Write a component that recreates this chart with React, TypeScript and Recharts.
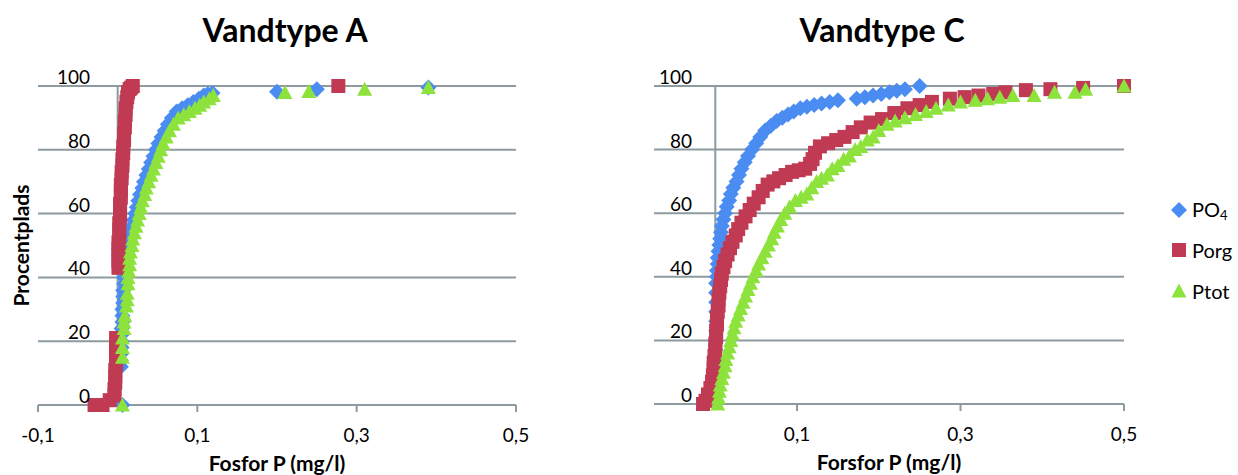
import { ScatterChart, Scatter, XAxis, YAxis, CartesianGrid, ReferenceLine, Legend } from 'recharts';

const FONT = 'Lato, "Open Sans", sans-serif';
const GRID = '#8d9ba1';
const BLUE = '#4a8cf2';
const RED = '#bf3a52';
const GREEN = '#8de33c';

// percentile (y) against concentration (x)
const A_PO4: [number, number][] = [
    [0.006, 0], [0.004, 12], [0.004, 14], [0.004, 16], [0.005, 18], [0.005, 20], [0.005, 22], [0.005, 24],
    [0.006, 26], [0.006, 28], [0.006, 30], [0.007, 32], [0.007, 34], [0.007, 36], [0.008, 38], [0.008, 40],
    [0.009, 42], [0.009, 44], [0.010, 46], [0.012, 48], [0.013, 50], [0.015, 52], [0.016, 54], [0.018, 56],
    [0.020, 58], [0.022, 60], [0.024, 62], [0.026, 64], [0.028, 66], [0.031, 68], [0.033, 70], [0.036, 72],
    [0.039, 74], [0.042, 76], [0.045, 78], [0.048, 80], [0.051, 82], [0.055, 84], [0.059, 86], [0.063, 88],
    [0.068, 90], [0.074, 92], [0.081, 93], [0.088, 94], [0.095, 95], [0.102, 96], [0.108, 97], [0.113, 97.5],
    [0.119, 97.8], [0.2, 98.2], [0.25, 99], [0.39, 99.5],
];
const A_PORG: [number, number][] = [
    [-0.029, 0], [-0.024, 0], [-0.019, 0], [-0.010, 1.5], [-0.004, 3], [-0.004, 5], [-0.003, 7], [-0.003, 9],
    [-0.003, 11], [-0.002, 13], [-0.002, 15], [-0.002, 17], [-0.002, 19], [-0.002, 21], [0.001, 43], [0.001, 45],
    [0.001, 47], [0.001, 49], [0.001, 51], [0.002, 53], [0.002, 55], [0.002, 57], [0.003, 59], [0.003, 61],
    [0.003, 63], [0.004, 65], [0.004, 67], [0.004, 69], [0.005, 71], [0.005, 73], [0.006, 75], [0.006, 77],
    [0.007, 79], [0.007, 81], [0.008, 83], [0.008, 85], [0.009, 87], [0.009, 89], [0.010, 91], [0.010, 93],
    [0.011, 95], [0.012, 96.5], [0.013, 98], [0.015, 99], [0.017, 99.5], [0.019, 100], [0.277, 100],
];
const A_PTOT: [number, number][] = [
    [0.006, 0], [0.006, 15], [0.006, 18], [0.006, 21], [0.008, 24], [0.008, 26], [0.009, 28], [0.011, 31],
    [0.012, 33], [0.012, 35], [0.013, 38], [0.013, 40], [0.014, 42], [0.015, 44], [0.015, 46], [0.016, 48],
    [0.018, 50], [0.019, 52], [0.021, 54], [0.023, 56], [0.025, 58], [0.027, 60], [0.029, 62], [0.031, 64],
    [0.034, 66], [0.036, 68], [0.039, 70], [0.042, 72], [0.045, 74], [0.048, 76], [0.051, 78], [0.054, 80],
    [0.057, 82], [0.061, 84], [0.065, 86], [0.070, 88], [0.076, 90], [0.083, 91], [0.090, 92], [0.097, 93],
    [0.103, 94], [0.108, 95], [0.115, 96], [0.120, 97], [0.21, 98], [0.24, 98.3], [0.31, 99], [0.39, 99.5],
];

const C_PO4: [number, number][] = [
    [0.000, 8], [0.000, 11], [0.000, 14], [0.000, 17], [0.000, 20], [0.001, 23], [0.001, 26], [0.001, 29],
    [0.001, 32], [0.001, 35], [0.001, 38], [0.002, 40], [0.002, 42], [0.003, 44], [0.003, 46], [0.004, 48],
    [0.005, 50], [0.006, 52], [0.007, 54], [0.008, 56], [0.010, 58], [0.012, 60], [0.014, 62], [0.017, 64],
    [0.019, 66], [0.022, 68], [0.026, 70], [0.029, 72], [0.032, 74], [0.036, 76], [0.040, 78], [0.045, 80],
    [0.050, 82], [0.055, 84], [0.061, 86], [0.068, 87.5], [0.075, 89], [0.082, 90], [0.089, 91], [0.096, 92],
    [0.104, 93], [0.112, 93.5], [0.121, 94], [0.130, 94.5], [0.140, 95], [0.150, 95.5], [0.173, 96], [0.183, 96.5],
    [0.193, 97], [0.203, 97.5], [0.213, 98], [0.222, 98.5], [0.232, 99], [0.25, 100],
];
const C_PORG: [number, number][] = [
    [-0.015, 0], [-0.012, 1], [-0.009, 3], [-0.006, 5], [-0.004, 7], [-0.003, 9], [-0.002, 11], [-0.002, 13],
    [-0.001, 15], [0.000, 17], [0.000, 19], [0.001, 21], [0.001, 23], [0.002, 25], [0.002, 27], [0.003, 29],
    [0.004, 31], [0.004, 33], [0.005, 35], [0.006, 37], [0.007, 39], [0.008, 41], [0.010, 43], [0.012, 45],
    [0.015, 47], [0.018, 49], [0.021, 51], [0.025, 53], [0.028, 55], [0.032, 57], [0.037, 59], [0.042, 61],
    [0.047, 63], [0.053, 65], [0.058, 67], [0.064, 69], [0.071, 70], [0.078, 71], [0.086, 72], [0.094, 73],
    [0.102, 73.5], [0.110, 74], [0.116, 75.5], [0.119, 77], [0.122, 79], [0.128, 81], [0.138, 82], [0.148, 83],
    [0.158, 84], [0.168, 85.5], [0.178, 87], [0.190, 88.5], [0.204, 89.6], [0.219, 91.5], [0.235, 93], [0.250, 94],
    [0.265, 95], [0.287, 96], [0.305, 96.5], [0.322, 97], [0.340, 97.5], [0.355, 98], [0.38, 98.7], [0.41, 99],
    [0.45, 99.4], [0.5, 100],
];
const C_PTOT: [number, number][] = [
    [0.003, 0], [0.004, 2], [0.005, 4], [0.006, 6], [0.008, 8], [0.010, 10], [0.012, 12], [0.013, 14],
    [0.015, 16], [0.017, 18], [0.019, 20], [0.021, 22], [0.023, 24], [0.025, 26], [0.028, 28], [0.031, 30],
    [0.034, 32], [0.037, 34], [0.040, 36], [0.043, 38], [0.046, 40], [0.050, 42], [0.053, 44], [0.057, 46],
    [0.061, 48], [0.065, 50], [0.069, 52], [0.072, 54], [0.076, 56], [0.080, 58], [0.085, 60], [0.091, 62],
    [0.098, 64], [0.105, 65], [0.112, 66], [0.118, 68], [0.124, 70], [0.130, 71], [0.137, 72], [0.143, 74],
    [0.150, 75], [0.157, 77], [0.164, 78], [0.171, 80], [0.178, 81], [0.186, 83], [0.193, 84], [0.200, 86],
    [0.210, 88], [0.220, 89], [0.232, 90], [0.245, 91], [0.258, 92], [0.270, 93], [0.285, 94], [0.300, 95],
    [0.318, 95.5], [0.333, 96], [0.348, 96.5], [0.364, 97], [0.39, 97], [0.415, 98], [0.44, 98], [0.453, 99],
    [0.5, 100],
];

const Y_TICKS = [0, 20, 40, 60, 80, 100];
const X_TICKS_A = [-0.1, 0.1, 0.3, 0.5];
const X_TICKS_C = [0.1, 0.3, 0.5];

const toPoints = (rows: [number, number][]) => rows.map(([x, y]) => ({ x, y }));
const comma = (v: number) => String(v).replace('.', ',');

const Diamond = ({ cx, cy, fill }: any) => (
    <path d={`M${cx},${cy - 8}L${cx + 8},${cy}L${cx},${cy + 8}L${cx - 8},${cy}Z`} fill={fill} />
);
const Square = ({ cx, cy, fill }: any) => <rect x={cx - 7} y={cy - 7} width={14} height={14} fill={fill} />;
const Triangle = ({ cx, cy, fill }: any) => (
    <path d={`M${cx},${cy - 7.5}L${cx + 7.5},${cy + 6.5}L${cx - 7.5},${cy + 6.5}Z`} fill={fill} />
);

const SERIES = [
    { key: 'po4', color: BLUE, Shape: Diamond },
    { key: 'porg', color: RED, Shape: Square },
    { key: 'ptot', color: GREEN, Shape: Triangle },
];

const YTick = ({ y, payload, right }: any) => (
    <text x={right} y={y - 2} textAnchor="end" fontSize={19} fontFamily={FONT} fill="#000">
        {payload.value}
    </text>
);

const LegendBox = () => (
    <div style={{ fontFamily: FONT, fontSize: 20, color: '#000' }}>
        {SERIES.map(({ key, color, Shape }, i) => (
            <div key={key} style={{ display: 'flex', alignItems: 'center', height: i === 1 ? 40 : 41 }}>
                <svg width={18} height={18} style={{ marginRight: 4 }}>
                    <Shape cx={9} cy={9} fill={color} />
                </svg>
                {key === 'po4' && <span>PO<sub style={{ fontSize: 13, verticalAlign: -3 }}>4</sub></span>}
                {key === 'porg' && <span>Porg</span>}
                {key === 'ptot' && <span>Ptot</span>}
            </div>
        ))}
    </div>
);

const Title = ({ text, center }: { text: string; center: number }) => (
    <div style={{
        position: 'absolute', left: center - 150, width: 300, top: 10, textAlign: 'center',
        fontFamily: FONT, fontWeight: 700, fontSize: 32, color: '#000',
    }}>{text}</div>
);

const Panel = ({ data, domain, ticks, width, margin, labelRight, xTitle, yTitle, legend }: any) => (
    <ScatterChart width={width} height={475} margin={margin}>
        <CartesianGrid vertical={false} stroke={GRID} strokeWidth={2} />
        <XAxis
            type="number" dataKey="x" domain={domain} ticks={ticks} tickFormatter={comma}
            stroke={GRID} strokeWidth={2} tickSize={7} tickMargin={17} height={30}
            tick={{ fill: '#000', fontSize: 19, fontFamily: FONT }}
            label={{ value: xTitle, position: 'bottom', offset: 21, fill: '#000', fontSize: 21, fontWeight: 700, fontFamily: FONT }}
        />
        <YAxis
            type="number" dataKey="y" domain={[0, 100]} ticks={Y_TICKS} width={1} interval={0}
            axisLine={false} tickLine={false} tick={(p: any) => <YTick {...p} right={labelRight} />}
            label={yTitle ? {
                value: yTitle, angle: -90, position: 'left', offset: 15, textAnchor: 'middle',
                fill: '#000', fontSize: 21, fontWeight: 700, fontFamily: FONT,
            } : undefined}
        />
        <ReferenceLine x={0} stroke={GRID} strokeWidth={2} />
        {SERIES.map(({ key, color, Shape }, i) => (
            <Scatter key={key} name={key} data={toPoints(data[i])} fill={color} isAnimationActive={false}
                     shape={(p: any) => <Shape cx={p.cx} cy={p.cy} fill={color} />} />
        ))}
        {legend && (
            <Legend layout="vertical" align="center" verticalAlign="middle" content={() => <LegendBox />}
                    wrapperStyle={{ left: 570, top: 189, width: 80 }} />
        )}
    </ScatterChart>
);

export default function App() {
    return (
        <div style={{ position: 'absolute', left: 0, top: 0, width: 1238, height: 475, background: '#fff', overflow: 'hidden' }}>
            <Title text="Vandtype A" center={285} />
            <Title text="Vandtype C" center={882} />
            <div style={{ position: 'absolute', left: 0, top: 0 }}>
                <Panel data={[A_PO4, A_PORG, A_PTOT]} domain={[-0.1, 0.5]} ticks={X_TICKS_A} width={560}
                       margin={{ top: 86, right: 44, bottom: 40, left: 37 }} labelRight={90}
                       xTitle="Fosfor P (mg/l)" yTitle="Procentplads" />
            </div>
            <div style={{ position: 'absolute', left: 600, top: 0 }}>
                <Panel data={[C_PO4, C_PORG, C_PTOT]} domain={[-0.075, 0.5]} ticks={X_TICKS_C} width={638}
                       margin={{ top: 86, right: 114, bottom: 41, left: 53 }} labelRight={92}
                       xTitle="Forsfor P (mg/l)" legend />
            </div>
        </div>
    );
}
